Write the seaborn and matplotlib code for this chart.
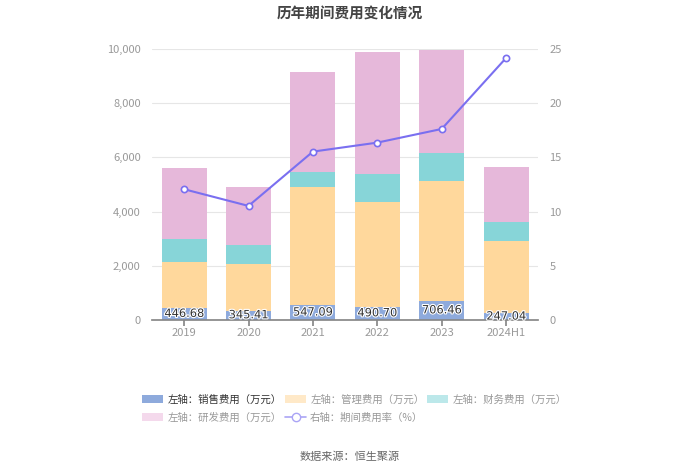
import seaborn as sns
import matplotlib.pyplot as plt
import matplotlib.patheffects as pe
from matplotlib.patches import Patch
from matplotlib.lines import Line2D
from matplotlib.ticker import FuncFormatter
import numpy as np

# data (万元 / %)
years = ['2019', '2020', '2021', '2022', '2023', '2024H1']
sales = [446.68, 345.41, 547.09, 490.70, 706.46, 247.04]
admin = [1704, 1721, 4373, 3851, 4423, 2656]
finance = [838, 702, 553, 1033, 1021, 702]
rnd = [2609, 2151, 3689, 4514, 3825, 2041]
rate = [12.06, 10.52, 15.53, 16.36, 17.62, 24.17]

c_sales = '#8eaadc'
c_admin = '#ffd89c'
c_fin = '#87d5d8'
c_rnd = '#e6b8da'
c_line = '#7a6ff0'

sns.set_theme(style='white')
plt.rcParams['font.family'] = ['Noto Sans CJK SC', 'DejaVu Sans']

fig = plt.figure(figsize=(7, 4.74), dpi=100)
ax = fig.add_axes([0.217, 0.325, 0.552, 0.5717])

# stacked bars: draw cumulative totals from the top down
s1 = np.array(sales)
s2 = s1 + np.array(admin)
s3 = s2 + np.array(finance)
s4 = s3 + np.array(rnd)
for vals, col in [(s4, c_rnd), (s3, c_fin), (s2, c_admin), (s1, c_sales)]:
    sns.barplot(x=years, y=vals, color=col, saturation=1, width=0.7, ax=ax,
                linewidth=0, edgecolor='none', zorder=2)

for i, v in enumerate(sales):
    ax.text(i, v / 2, f'{v:.2f}', ha='center', va='center', fontsize=8.2, color='#333333',
            family='DejaVu Sans', zorder=5,
            path_effects=[pe.withStroke(linewidth=1.6, foreground='white')])

ax.set_ylim(0, 10000)
ax.set_yticks(range(0, 10001, 2000))
ax.yaxis.set_major_formatter(FuncFormatter(lambda v, p: f'{int(v):,}'))
ax.grid(axis='y', color='#e6e6e6', linewidth=0.8, zorder=0)
ax.set_axisbelow(True)
ax.set_xlim(-0.5, 5.5)
for s in ['left', 'right', 'top']:
    ax.spines[s].set_visible(False)
ax.spines['bottom'].set_color('#888888')
ax.tick_params(axis='y', length=0, labelsize=8, labelcolor='#999999', pad=8)
ax.tick_params(axis='x', length=4, color='#888888', labelsize=8, labelcolor='#999999', pad=2, bottom=True)
ax.set_xlabel('')
ax.set_ylabel('')

ax2 = ax.twinx()
sns.lineplot(x=np.arange(len(years)), y=rate, ax=ax2, color=c_line, linewidth=1.5,
             marker='o', markersize=4.5, markerfacecolor='white', markeredgecolor=c_line,
             markeredgewidth=1.2, zorder=6)
ax2.set_ylim(0, 25)
ax2.set_yticks(range(0, 26, 5))
for s in ['left', 'right', 'top', 'bottom']:
    ax2.spines[s].set_visible(False)
ax2.tick_params(axis='y', length=0, labelsize=8, labelcolor='#999999', pad=8)
ax2.set_ylabel('')
ax2.grid(False)

fig.text(0.5, 0.972, '历年期间费用变化情况', ha='center', va='center', fontsize=10.5,
         fontweight='bold', color='#444444')

# legend: one entry per legend so each sits where the reference puts it
leg_kw = dict(loc='upper left', frameon=False, fontsize=7.5, handlelength=2.0,
              handleheight=0.8, handletextpad=0.4)
legend_items = [
    (Patch(facecolor=c_sales, edgecolor='none'), '左轴：销售费用（万元）', '#333333', (0.19, 0.188)),
    (Patch(facecolor='#ffe9c8', edgecolor='none'), '左轴：管理费用（万元）', '#999999', (0.394, 0.188)),
    (Patch(facecolor='#bce8ea', edgecolor='none'), '左轴：财务费用（万元）', '#999999', (0.597, 0.188)),
    (Patch(facecolor='#f4d9ec', edgecolor='none'), '左轴：研发费用（万元）', '#999999', (0.19, 0.150)),
    (Line2D([0], [0], color='#aaa4f5', marker='o', markerfacecolor='white',
            markeredgecolor='#aaa4f5', linewidth=1.2, markersize=6),
     '右轴：期间费用率（%）', '#999999', (0.394, 0.150)),
]
for h, lab, tc, anchor in legend_items:
    lg = fig.legend([h], [lab], bbox_to_anchor=anchor, **leg_kw)
    lg.get_texts()[0].set_color(tc)

fig.text(0.5, 0.036, '数据来源：恒生聚源', ha='center', va='center', fontsize=8, color='#666666')

fig.savefig('out.png', dpi=100)
